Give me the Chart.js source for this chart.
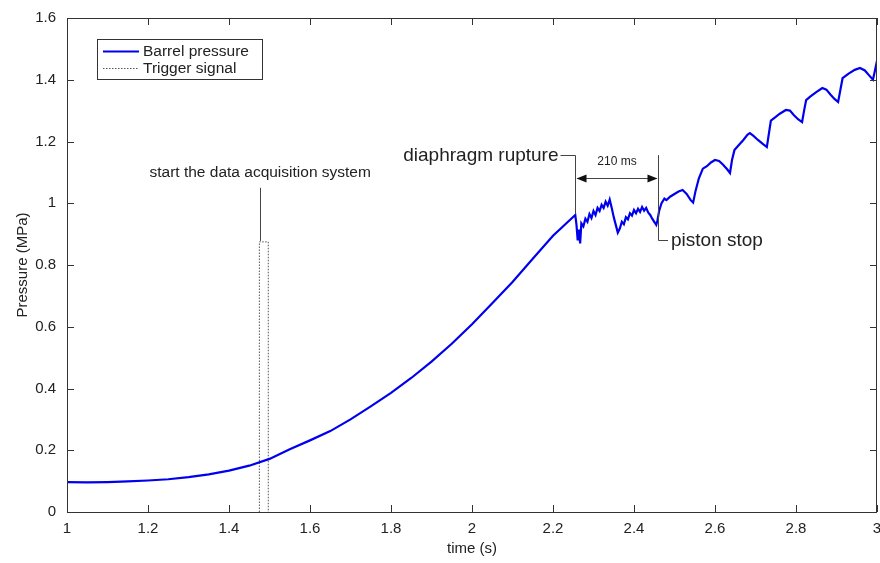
<!DOCTYPE html>
<html><head><meta charset="utf-8">
<script src="https://cdn.jsdelivr.net/npm/chart.js@4/dist/chart.umd.min.js"></script>
<style>html,body{margin:0;padding:0;background:#fff;}#wrap{width:880px;height:563px;}</style>
</head><body><div id="wrap"><canvas id="c" width="880" height="563"></canvas></div>
<script>
// ---- data ----
const barrelTime = [1.00,1.05,1.10,1.15,1.20,1.25,1.30,1.35,1.40,1.45,1.50,1.55,1.60,1.65,1.70,1.75,1.80,1.85,1.90,1.95,2.00,2.05,2.10,2.15,2.20,2.255,
2.258,2.261,2.264,2.267,2.270,2.275,2.280,2.285,2.290,2.295,2.300,2.305,2.310,2.315,2.320,2.325,2.330,2.335,2.340,2.345,2.350,2.355,2.360,2.365,2.370,2.375,2.380,2.385,2.390,2.395,2.400,2.405,2.410,2.415,2.420,2.425,2.430,2.435,2.440,2.445,2.450,2.455,2.458,2.462,2.468,2.475,2.480,2.490,2.500,2.510,2.520,2.530,2.540,2.546,2.552,2.560,2.570,2.580,2.590,2.600,2.610,2.620,2.630,2.637,2.642,2.648,2.660,2.670,2.680,2.686,2.695,2.706,2.718,2.728,2.733,2.738,2.750,2.760,2.775,2.785,2.795,2.805,2.815,2.820,2.825,2.835,2.850,2.865,2.875,2.885,2.895,2.904,2.910,2.915,2.930,2.945,2.958,2.970,2.980,2.990,2.995,3.000];
const barrelPressure = [0.097,0.096,0.097,0.099,0.102,0.106,0.113,0.122,0.134,0.150,0.172,0.203,0.232,0.262,0.300,0.342,0.386,0.434,0.487,0.545,0.608,0.676,0.745,0.820,0.895,0.962,
0.930,0.880,0.915,0.870,0.935,0.925,0.950,0.940,0.965,0.952,0.975,0.962,0.985,0.975,0.995,0.985,1.005,0.992,1.012,0.985,0.955,0.930,0.905,0.918,0.940,0.932,0.955,0.948,0.968,0.960,0.978,0.968,0.982,0.972,0.988,0.976,0.985,0.970,0.962,0.950,0.940,0.930,0.945,0.975,1.000,1.015,1.010,1.022,1.030,1.038,1.043,1.030,1.010,1.002,1.040,1.080,1.112,1.120,1.132,1.140,1.137,1.125,1.110,1.098,1.140,1.172,1.190,1.205,1.222,1.227,1.218,1.205,1.192,1.182,1.225,1.268,1.280,1.290,1.302,1.300,1.285,1.272,1.263,1.300,1.334,1.345,1.360,1.373,1.368,1.352,1.338,1.328,1.370,1.405,1.420,1.432,1.438,1.430,1.415,1.400,1.430,1.462];
const triggerTime = [1.475,1.475,1.497,1.497];
const triggerValue = [0,0.875,0.875,0];
const seriesNames = ["Barrel pressure","Trigger signal"];
const xTicks = [1,1.2,1.4,1.6,1.8,2,2.2,2.4,2.6,2.8,3];
const yTicks = [0,0.2,0.4,0.6,0.8,1,1.2,1.4,1.6];
const annoTexts = ["start the data acquisition system","diaphragm rupture","210 ms","piston stop"];
// annotation anchors in data units
const startAnno = {x:1.477, textY:1.098, lineTop:1.05, lineBottom:0.878};
const ruptureAnno = {x:2.255, y:1.156, lineBottom:0.965};
const stopAnno = {x:2.459, yTop:1.156, yBottom:0.881, tailX:2.484};
const spanAnno = {y:1.082, textY:1.134};

const FONT = "'Liberation Sans', Arial, sans-serif";
const INK = '#222';

const overlay = {
  id:'overlay',
  afterDraw(chart){
    const ctx = chart.ctx, a = chart.chartArea, xs = chart.scales.x, ys = chart.scales.y;
    ctx.save();
    // box
    ctx.strokeStyle = '#333'; ctx.lineWidth = 1;
    ctx.strokeRect(Math.round(a.left)+0.5, Math.round(a.top)+0.5, Math.round(a.right-a.left)-1, Math.round(a.bottom-a.top));
    // inward ticks
    const tl = 7;
    ctx.beginPath();
    xTicks.forEach(v=>{const p=Math.round(xs.getPixelForValue(v))+0.5; ctx.moveTo(p,a.bottom); ctx.lineTo(p,a.bottom-tl); ctx.moveTo(p,a.top); ctx.lineTo(p,a.top+tl);});
    yTicks.forEach(v=>{const p=Math.round(ys.getPixelForValue(v))+0.5; ctx.moveTo(a.left,p); ctx.lineTo(a.left+tl,p); ctx.moveTo(a.right,p); ctx.lineTo(a.right-tl,p);});
    ctx.stroke();

    // annotations
    ctx.strokeStyle = '#444'; ctx.fillStyle = INK; ctx.lineWidth = 1;
    const X = v=>xs.getPixelForValue(v), Y = v=>ys.getPixelForValue(v);
    // start acquisition
    ctx.font = '15.5px '+FONT; ctx.textAlign='center'; ctx.textBaseline='middle';
    ctx.fillText(annoTexts[0], X(startAnno.x), Y(startAnno.textY));
    ctx.beginPath(); ctx.moveTo(Math.round(X(startAnno.x))+0.5, Y(startAnno.lineTop)); ctx.lineTo(Math.round(X(startAnno.x))+0.5, Y(startAnno.lineBottom)); ctx.stroke();
    // diaphragm rupture
    ctx.font = '19px '+FONT; ctx.textAlign='right';
    const rx = Math.round(X(ruptureAnno.x))+0.5, ry = Math.round(Y(ruptureAnno.y))+0.5;
    ctx.fillText(annoTexts[1], rx-17, ry);
    ctx.beginPath(); ctx.moveTo(rx-15, ry); ctx.lineTo(rx, ry); ctx.lineTo(rx, Y(ruptureAnno.lineBottom)); ctx.stroke();
    // piston stop
    const sx = Math.round(X(stopAnno.x))+0.5, sy = Math.round(Y(stopAnno.yBottom))+0.5;
    ctx.beginPath(); ctx.moveTo(sx, Y(stopAnno.yTop)); ctx.lineTo(sx, sy); ctx.lineTo(X(stopAnno.tailX), sy); ctx.stroke();
    ctx.textAlign='left';
    ctx.fillText(annoTexts[3], X(stopAnno.tailX)+3, sy);
    // 210 ms arrow
    const ay = Math.round(Y(spanAnno.y))+0.5;
    ctx.beginPath(); ctx.moveTo(rx+2, ay); ctx.lineTo(sx-2, ay); ctx.stroke();
    ctx.fillStyle = '#111';
    ctx.beginPath(); ctx.moveTo(rx+1, ay); ctx.lineTo(rx+11, ay-4); ctx.lineTo(rx+11, ay+4); ctx.closePath(); ctx.fill();
    ctx.beginPath(); ctx.moveTo(sx-1, ay); ctx.lineTo(sx-11, ay-4); ctx.lineTo(sx-11, ay+4); ctx.closePath(); ctx.fill();
    ctx.fillStyle = INK; ctx.font = '12px '+FONT; ctx.textAlign='center';
    ctx.fillText(annoTexts[2], (rx+sx)/2, Y(spanAnno.textY));

    // legend
    const lx = a.left+30, ly = a.top+21, lw = 165, lh = 40;
    ctx.fillStyle='#fff'; ctx.fillRect(lx, ly, lw, lh);
    ctx.strokeStyle='#333'; ctx.strokeRect(lx+0.5, ly+0.5, lw, lh);
    const dsets = chart.data.datasets;
    ctx.font = '15.5px '+FONT; ctx.textAlign='left'; ctx.textBaseline='middle';
    dsets.forEach((d,i)=>{
      const yy = ly + 12 + i*17 + 0.5;
      ctx.strokeStyle = d.borderColor; ctx.lineWidth = d.borderWidth; ctx.setLineDash(d.borderDash||[]);
      ctx.beginPath(); ctx.moveTo(lx+6, yy); ctx.lineTo(lx+42, yy); ctx.stroke();
      ctx.setLineDash([]);
      ctx.fillStyle = INK; ctx.fillText(d.label, lx+46, yy);
    });
    ctx.restore();
  }
};

new Chart(document.getElementById('c'), {
  type:'line',
  data:{datasets:[
    {label:seriesNames[0], data:barrelTime.map((t,i)=>({x:t,y:barrelPressure[i]})), borderColor:'#0000ee', borderWidth:2.2, pointRadius:0, tension:0, fill:false},
    {label:seriesNames[1], data:triggerTime.map((t,i)=>({x:t,y:triggerValue[i]})), borderColor:'#555', borderWidth:1, borderDash:[1.5,1.5], pointRadius:0, tension:0, fill:false}
  ]},
  options:{
    responsive:false, animation:false, devicePixelRatio:1,
    layout:{padding:{left:0,right:3,top:18,bottom:0}},
    plugins:{legend:{display:false}, tooltip:{enabled:false}},
    scales:{
      x:{type:'linear', min:1, max:3,
        afterBuildTicks(s){s.ticks = xTicks.map(v=>({value:v}));},
        afterFit(s){s.height=51; s.paddingLeft=0; s.paddingRight=0;},
        grid:{display:false}, border:{display:false},
        ticks:{color:INK, font:{family:FONT,size:15}, padding:0, maxRotation:0, autoSkip:false, callback:v=>String(v)},
        title:{display:true, text:'time (s)', color:INK, font:{family:FONT,size:15}, padding:{top:5,bottom:5}}
      },
      y:{type:'linear', min:0, max:1.6,
        afterBuildTicks(s){s.ticks = yTicks.map(v=>({value:v}));},
        afterFit(s){s.width=67; s.paddingTop=0; s.paddingBottom=0;},
        grid:{display:false}, border:{display:false},
        ticks:{color:INK, font:{family:FONT,size:15}, padding:3, autoSkip:false, callback:v=>String(v)},
        title:{display:true, text:'Pressure (MPa)', color:INK, font:{family:FONT,size:15}, padding:{top:14,bottom:14}}
      }
    }
  },
  plugins:[overlay]
});
</script></body></html>
